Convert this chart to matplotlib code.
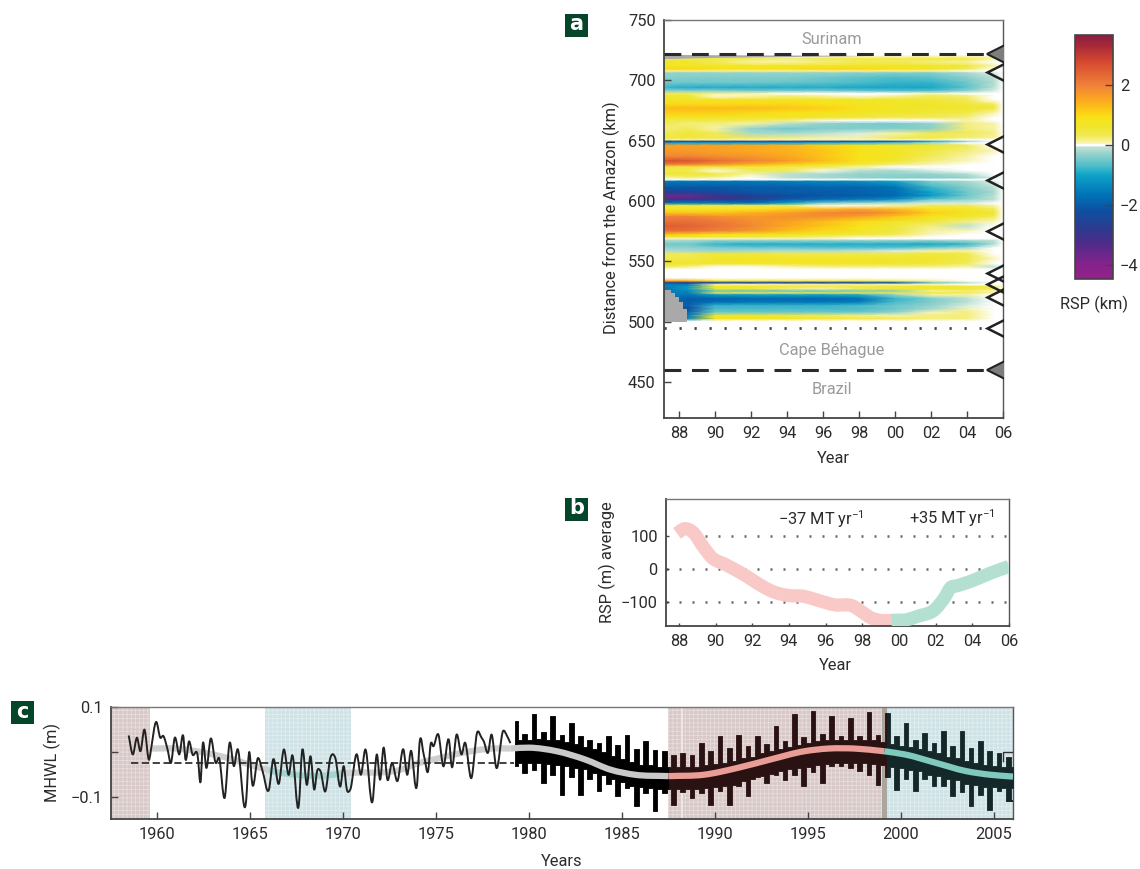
import numpy as np
import matplotlib
matplotlib.use('Agg')
import matplotlib.pyplot as plt
from matplotlib.colors import LinearSegmentedColormap, Normalize
from matplotlib.cm import ScalarMappable
from matplotlib.patches import Rectangle, PathPatch
from matplotlib.path import Path

plt.rcParams['font.family'] = ['Roboto', 'Liberation Sans', 'DejaVu Sans']
plt.rcParams['mathtext.default'] = 'regular'
plt.rcParams['hatch.linewidth'] = 0.5

# ---------- panel a ----------
col_years = [87.2, 88.5, 90, 92, 94, 96, 98, 100, 102, 104, 105.5, 106]
row_km = [721, 718, 715, 712, 709, 707.5, 706, 702, 698, 694, 691, 689, 687, 684, 680, 677, 673, 669, 666.5, 664, 660, 656, 652,
          650.5, 649, 648, 646, 641, 637, 633, 630, 628, 625, 622, 619, 617.5, 616, 611, 607, 604, 601, 598, 596, 593, 590, 587,
          583, 579, 575, 572, 570, 568.5, 567, 564, 561, 558.5, 556, 552, 548, 545.5, 543, 536, 533.5, 532, 530.5, 529, 527, 525,
          523.5, 522, 519, 516, 513, 510, 507.5, 505, 502, 500.5]
rsp = [
 [0,0,0,0,0,0,0,0,0,0,0,0],
 [.4,.4,.4,.3,.2,.3,.4,.3,.4,.4,.1,0],
 [.6,.6,.3,.1,.1,.2,.3,.3,.2,.1,0,0],
 [.7,.7,.7,.7,.7,.7,.7,.7,.6,.5,.1,0],
 [1,1,.9,.9,.9,1,1,.9,.7,.3,0,0],
 [.1,.1,.1,.1,.1,.1,.1,.1,.05,0,0,0],
 [-.3,-.3,-.3,-.3,-.3,-.3,-.35,-.4,-.4,-.2,-.05,0],
 [-.35,-.4,-.4,-.4,-.4,-.5,-.6,-.7,-.6,-.35,-.1,0],
 [-.5,-.5,-.5,-.5,-.55,-.6,-.7,-.8,-.8,-.5,-.15,0],
 [-.8,-.9,-.9,-.9,-.9,-.9,-.95,-.95,-.95,-.6,-.1,0],
 [-.3,-.3,-.3,-.4,-.4,-.4,-.5,-.6,-.6,-.3,-.05,0],
 [.3,.3,.2,.1,.02,.02,.02,.02,.05,.02,0,0],
 [.6,.5,.03,.05,.2,.1,.03,.1,.3,.2,0,0],
 [.7,.7,.7,.7,.7,.7,.6,.6,.5,.3,0,0],
 [1,1,1,1,1,.9,.8,.7,.6,.5,.3,0],
 [1.3,1.3,1.3,1.3,1.2,1.1,.9,.7,.6,.6,.5,0],
 [1.1,1.1,1.1,1,.9,.8,.7,.6,.5,.4,.1,0],
 [.7,.7,.7,.7,.7,.6,.5,.3,.3,.2,0,0],
 [.4,.4,.4,.3,.2,.03,.02,.02,.02,.1,0,0],
 [.3,.2,.2,.1,-.1,-.3,-.4,-.45,-.3,.2,.1,0],
 [.2,.3,.1,-.3,-.5,-.4,-.4,-.4,-.35,.2,.1,0],
 [.3,.5,.3,-.2,-.2,-.1,-.05,.1,.3,.3,.2,0],
 [.5,.5,.4,.3,.2,.1,.1,.3,.4,.2,.1,0],
 [.1,.1,.1,.05,.05,.05,.05,.05,.05,0,0,0],
 [-3,-3,-3,-3,-3,-2.8,-2.6,-2.2,-1,-.3,0,0],
 [-1,-1,-1,-1,-1,-.9,-.8,-.6,-.2,0,0,0],
 [1.6,1.6,1.6,1.5,1.4,1.1,.9,.7,.6,.3,0,0],
 [1.7,1.7,1.6,1.5,1.4,1.2,.9,.7,.4,.2,.05,0],
 [1.9,1.9,1.8,1.7,1.5,1.2,.9,.7,.3,.1,0,0],
 [2.7,2.6,2.3,2.0,1.7,1.3,.9,.6,.2,.05,0,0],
 [2,1.9,1.7,1.4,1.1,.8,.5,.2,.05,0,0,0],
 [.5,.5,.5,.5,.4,.3,.1,0,0,0,0,0],
 [.4,.4,.03,.3,.3,.03,-.1,-.2,-.05,0,0,0],
 [.5,.5,.5,.1,-.1,-.2,-.3,-.3,-.3,-.15,0,0],
 [.1,.2,.1,0,-.1,-.2,-.3,-.4,-.4,-.3,-.05,0],
 [0,0,0,0,0,0,0,0,0,0,0,0],
 [-1.6,-1.6,-1.6,-1.6,-1.5,-1.4,-1.3,-1,-.4,-.2,-.05,0],
 [-2.1,-2.1,-2.1,-2,-2,-1.9,-1.9,-1.7,-.8,-.4,-.1,0],
 [-2.6,-2.5,-2.3,-2.1,-2,-2,-1.9,-1.7,-1,-.5,-.2,0],
 [-3.8,-3.8,-3.2,-2.7,-2.3,-2.1,-2,-1.8,-1.1,-.5,-.1,0],
 [-3,-2.8,-2.8,-2.5,-2,-1.7,-1.5,-1.2,-.5,-.3,-.1,0],
 [-1.5,-1.5,-1.5,-1.7,-1,-.4,-.2,-.1,-.05,-.05,0,0],
 [.5,.5,.4,.3,.3,.03,.03,.1,.3,.3,.1,0],
 [.7,.7,.8,.9,1.1,1.3,1.5,1.3,.9,.7,.3,0],
 [1.2,1.2,1.2,1.4,1.6,1.9,2,1.7,1.1,.8,.6,0],
 [2,2,1.8,1.7,1.8,1.8,1.6,1.2,.8,.6,.3,0],
 [2.2,2.2,2.1,1.8,1.6,1.3,1,.7,.5,.2,.05,0],
 [2.5,2.4,2.2,1.9,1.5,1.2,.9,.5,.2,-.1,0,0],
 [2.2,2.2,2,1.7,1.3,1,.7,.5,.1,.05,0,0],
 [1.2,1.1,.9,.8,.7,.6,.5,.3,.05,0,0,0],
 [.6,.6,.5,.5,.4,.2,.1,.05,0,0,0,0],
 [.05,.05,.05,.05,.05,.05,0,0,0,0,0,0],
 [-.2,-.2,-.3,-.3,-.3,-.3,-.3,-.3,-.3,-.2,-.1,0],
 [-.5,-.5,-.8,-.9,-.9,-.9,-.9,-.9,-.95,-.8,-.15,0],
 [-.3,-.3,-.4,-.5,-.5,-.6,-.6,-.6,-.4,-.2,0,0],
 [-.15,-.2,-.25,-.2,-.15,-.15,-.1,-.05,.1,.1,0,0],
 [.3,.3,.5,.5,.4,.4,.4,.4,.5,.4,0,0],
 [.4,.4,.6,.7,.7,.7,.7,.6,.6,.4,.05,0],
 [.7,.6,.6,.7,.7,.7,.7,.6,.5,.3,0,0],
 [.3,.2,.03,.03,.1,.2,.2,.2,.2,.1,-.1,0],
 [0,0,0,0,0,0,0,0,0,0,0,0],
 [0,0,0,0,0,0,0,0,0,0,0,0],
 [1.6,1.4,.4,.3,.3,.3,.3,.2,.1,0,0,0],
 [-2.5,-2.7,-2.5,-2.5,-2.5,-2.5,-2.3,-2,-.5,-.1,0,0],
 [-1.5,-1.5,.1,.05,.1,.1,.1,.05,.05,0,0,0],
 [-1.5,-1.2,.6,.6,.5,.4,.4,.5,.6,.5,.3,0],
 [-1.6,-1.1,.5,.5,.2,.1,.3,.5,.6,.5,.3,0],
 [-1.5,-1.4,-.6,-.6,-.6,-.6,-.5,-.4,.1,.2,.05,0],
 [-1.5,-1.5,.4,.3,.3,.4,.4,.4,.5,.3,.1,0],
 [-1.5,-1.6,-1.1,-1,-1,-1,-.9,-.3,.1,.1,0,0],
 [-1.6,-2,-1.9,-1.8,-1.8,-1.8,-1.7,-.8,-.4,-.1,0,0],
 [-1.6,-2,-1.7,-1.6,-1.6,-1.6,-1.5,-.7,-.4,-.1,0,0],
 [-1.5,-2,-.8,-.8,-.8,-.8,-.7,-.5,-.3,-.05,0,0],
 [-1.5,-2.3,-.7,-.7,-.7,-.7,-.7,-.5,-.2,.1,0,0],
 [-1.5,-1.8,-.5,-.5,-.5,-.5,-.5,-.3,.05,.2,0,0],
 [-1.5,-1.5,.6,.7,.5,.3,.2,.1,.2,.2,0,0],
 [-1.5,-1.5,.8,.7,.6,.5,.4,.3,.2,.2,0,0],
 [0,0,0,0,0,0,0,0,0,0,0,0],
]
gap_years = [87.17, 87.55, 87.8, 88.0, 88.2, 88.45]
gap_top_km = [526, 524, 520, 516, 510, 505]
strip_years = [87.17, 90, 93, 96, 98.5]
strip_top_km = [721.5, 721.2, 721, 720.8, 720.5]
strip_bot_km = [718, 719, 719.5, 720, 720.5]
coast_km_open = [707, 647, 617, 575, 540.5, 531, 520, 495]
coast_km_filled = [722, 460]
year_ticks = [88, 90, 92, 94, 96, 98, 100, 102, 104, 106]
year_tick_labels = ['88', '90', '92', '94', '96', '98', '00', '02', '04', '06']
km_ticks = [450, 500, 550, 600, 650, 700, 750]
cbar_ticks = [2, 0, -2, -4]
cbar_labels = ['2', '0', '\u22122', '\u22124']

# ---------- panel b ----------
loss_years = [87.9, 88.3, 88.8, 89.3, 89.8, 90.5, 91.5, 92.5, 93, 94, 94.8, 95.5, 96.5, 97.5, 98, 98.5, 99, 99.7]
loss_rsp = [108, 122, 110, 70, 35, 15, -15, -50, -65, -80, -82, -93, -108, -112, -130, -148, -155, -155]
gain_years = [99.6, 100.5, 101, 102, 102.5, 102.8, 103.2, 104, 105, 106]
gain_rsp = [-155, -152, -143, -120, -85, -57, -50, -35, -12, 8]

# ---------- panel c ----------
thin_years = [1958.48,1958.70,1958.93,1959.11,1959.32,1959.59,1959.68,1959.96,1960.18,1960.34,1960.57,1960.75,1960.96,1961.20,1961.43,1961.52,1961.73,1961.91,1962.18,1962.36,1962.45,1962.66,1962.89,1963.16,1963.34,1963.64,1963.91,1964.14,1964.32,1964.80,1964.95,1965.13,1965.43,1965.66,1966.02,1966.25,1966.55,1966.82,1967.09,1967.27,1967.63,1967.80,1968.07,1968.25,1968.46,1968.61,1968.79,1969.05,1969.32,1969.59,1969.86,1970.04,1970.21,1970.39,1970.75,1970.96,1971.20,1971.59,1971.82,1972.00,1972.18,1972.39,1972.63,1972.93,1973.25,1973.46,1973.64,1974.00,1974.11,1974.36,1974.59,1974.71,1974.86,1975.13,1975.39,1975.71,1975.84,1976.11,1976.38,1976.55,1976.91,1977.21,1977.45,1977.57,1977.80,1977.98,1978.25,1978.61,1978.82,1979.0]
thin_mhwl = [.037,-.005,.032,.002,.05,-.016,.006,.067,.032,.036,.006,-.024,.032,-.005,.032,-.013,.024,-.005,-.005,-.061,.013,-.035,.030,-.024,-.013,-.101,.021,-.031,.006,-.105,-.001,-.072,-.013,-.039,-.083,-.016,-.07,.006,-.05,-.007,-.116,.002,-.072,-.009,-.083,-.042,-.042,-.087,-.013,-.013,-.076,-.031,-.083,-.083,-.005,-.05,.006,-.109,-.005,-.061,.01,-.061,-.024,-.064,.006,-.05,.002,-.064,.017,-.009,-.039,.017,.013,.039,-.031,.024,-.031,.039,-.005,.021,-.057,.043,.032,.024,-.001,.039,-.035,.047,.036,.02]

comb_top = [
 .069,.028,.04,.028, .084,.03,.045,.028, .08,.026,.038,.022, .065,.018,.035,.012,
 .028,.006,.02,.0, .036,-.008,.016,-.016, .039,-.022,.008,-.028, .024,-.028,.005,-.032,
 .002,-.032,-.006,-.032, -.001,-.032,-.006,-.032, .021,-.028,.002,-.026, .036,-.024,.01,-.02,
 .039,-.014,.014,-.01, .036,-.002,.018,.002, .058,.008,.024,.012, .084,.016,.034,.02,
 .091,.024,.04,.026, .08,.028,.035,.028, .076,.028,.036,.028, .09,.026,.038,.022,
 .087,.018,.035,.014, .065,.012,.028,.008, .043,.002,.02,-.002, .047,-.01,.014,-.014,
 .047,-.02,.01,-.024, .024,-.028,.002,-.03, -.001,-.032,-.01,-.032]
comb_bottom = [
 -.03,-.024,-.046,-.024, -.04,-.024,-.068,-.026, -.05,-.028,-.094,-.03, -.055,-.034,-.094,-.038,
 -.06,-.046,-.087,-.05, -.07,-.06,-.098,-.067, -.08,-.074,-.12,-.078, -.09,-.08,-.131,-.082,
 -.09,-.082,-.116,-.082, -.088,-.082,-.101,-.082, -.09,-.08,-.116,-.078, -.085,-.074,-.116,-.072,
 -.075,-.064,-.098,-.06, -.055,-.052,-.068,-.048, -.05,-.042,-.061,-.038, -.05,-.034,-.076,-.032,
 -.045,-.028,-.068,-.026, -.03,-.024,-.031,-.024, -.035,-.024,-.042,-.024, -.05,-.026,-.072,-.028,
 -.055,-.032,-.083,-.034, -.06,-.04,-.087,-.042, -.06,-.05,-.076,-.052, -.075,-.06,-.098,-.062,
 -.088,-.07,-.12,-.072, -.095,-.077,-.127,-.078, -.085,-.08,-.109,-.08]
comb_years = [1979.27 + 0.25 * k for k in range(len(comb_top))]
nodal_years = [1959.7,1961,1962,1963,1964,1965,1966,1967,1968,1969,1970,1971,1972,1973,1974,1975,1976,1977,1978,1979,1980,1981.5,1983,1984.4,1985.7,1987.5,1989.4,1991.2,1993,1994.8,1996.1,1997.5,1999.1,2000.2,2001.9,2003.5,2004.8,2006.02]
nodal_mhwl = [.008,.008,.003,-.005,-.015,-.028,-.04,-.048,-.052,-.052,-.047,-.045,-.045,-.04,-.025,-.015,-.005,.003,.008,.008,.01,.002,-.016,-.039,-.05,-.053,-.05,-.035,-.016,.002,.008,.008,.002,-.005,-.024,-.042,-.05,-.054]
mean_years = [1958.6, 1979.2]
mean_mhwl = [-.024, -.024]
box_years = [2006.02, 2005.5, 2005.5]
box_mhwl = [.0, .0, -.02]
box2_years = [2005.7, 2006.02]
box2_mhwl = [-.108, -.108]
c_ticks = [1960, 1965, 1970, 1975, 1980, 1985, 1990, 1995, 2000, 2005]
shade_brown = [(1957.53, 1959.65), (1987.47, 1999.19)]
shade_blue = [(1965.8, 1970.45), (1999.19, 2006.02)]

# ---------- styling helpers ----------
W, H = 1140, 869
FS = 11.8
fig = plt.figure(figsize=(W / 100, H / 100), dpi=100)

def box(l, t, r, b):
    return [l / W, 1 - b / H, (r - l) / W, (b - t) / H]

def label(x, y, s, **kw):
    kw.setdefault('fontsize', FS)
    kw.setdefault('color', '#2b2b2b')
    kw.setdefault('ha', 'center')
    kw.setdefault('va', 'center')
    fig.text(x / W, 1 - y / H, s, **kw)

def badge(x, y, s):
    fig.add_artist(Rectangle((x / W, 1 - (y + 23) / H), 23 / W, 23 / H, transform=fig.transFigure,
                             facecolor='#05452a', edgecolor='none'))
    label(x + 11.5, y + 10.5, s, color='white', fontsize=15, fontweight='bold', family='DejaVu Sans')

def style(ax, xt, xl, yt, yl):
    for s, c, w in [('left', '#444444', 1.3), ('bottom', '#444444', 1.3), ('top', '#777777', 1.0), ('right', '#555555', 1.0)]:
        ax.spines[s].set_color(c)
        ax.spines[s].set_linewidth(w)
    ax.set_xticks(xt, xl)
    ax.set_yticks(yt, yl)
    ax.tick_params(direction='in', length=5, width=1, color='#444444', labelsize=FS, labelcolor='#2b2b2b', pad=6)

def smooth(ax, xs, ys, **kw):
    """Draw a line through the read values with rounded (Bezier) joins."""
    xs, ys = np.asarray(xs, float), np.asarray(ys, float)
    tan = np.gradient(ys, xs)
    verts, codes = [(xs[0], ys[0])], [Path.MOVETO]
    for i in range(len(xs) - 1):
        d = (xs[i + 1] - xs[i]) / 3
        verts += [(xs[i] + d, ys[i] + tan[i] * d), (xs[i + 1] - d, ys[i + 1] - tan[i + 1] * d), (xs[i + 1], ys[i + 1])]
        codes += [Path.CURVE4] * 3
    p = PathPatch(Path(verts, codes), fill=False, capstyle='butt', joinstyle='round', **kw)
    ax.add_patch(p)

stops = [(-4.47, '#97208c'), (-4.0, '#86228a'), (-3.3, '#4f2b8a'), (-2.8, '#2d3a8f'), (-2.2, '#0e4fa0'),
         (-1.7, '#0070b5'), (-1.0, '#0fa2c8'), (-0.7, '#4cbdca'), (-0.3, '#93d2cb'), (-0.06, '#c4e3d3'),
         (-0.02, '#ffffff'), (0.02, '#ffffff'), (0.05, '#f9f5b8'), (0.3, '#f1ea58'), (0.6, '#f0e62c'), (0.9, '#f8e31a'),
         (1.1, '#fdcf16'), (1.5, '#fba81f'), (2.0, '#f0803a'), (2.8, '#d3472f'), (3.3, '#a92a38'), (3.67, '#8a1c42')]
vmin, vmax = -4.47, 3.67
cmap = LinearSegmentedColormap.from_list('rsp', [((v - vmin) / (vmax - vmin), c) for v, c in stops], N=1024)
norm = Normalize(vmin, vmax)

# ---------- panel a ----------
axa = fig.add_axes(box(664, 20, 1003, 418))
axa.pcolormesh(col_years, row_km, np.array(rsp), cmap=cmap, norm=norm, shading='gouraud', zorder=1, rasterized=True)
axa.fill_between(gap_years, 500, gap_top_km, step='post', color='#a9a9a9', lw=0, zorder=2)
axa.fill_between(strip_years, strip_bot_km, strip_top_km, color='#a9a9a9', lw=0, zorder=2)
axa.set_xlim(87.17, 106)
axa.set_ylim(420, 750)
style(axa, year_ticks, year_tick_labels, km_ticks, [str(k) for k in km_ticks])
for km in [722, 460]:
    axa.plot([87.17, 105.5], [km, km], color='#2a2a2a', lw=2.2, ls=(0, (5.5, 3.5)), zorder=3)
axa.plot([87.17, 105.5], [495, 495], color='#444444', lw=2, ls=(0, (0.8, 4.6)), zorder=3)
axa.plot([105.65] * len(coast_km_open), coast_km_open, ls='none', marker='<', ms=14, mfc='none', mec='#222222', mew=1.8, zorder=4)
axa.plot([105.65] * len(coast_km_filled), coast_km_filled, ls='none', marker='<', ms=14, mfc='#7d7d7d', mec='#222222', mew=1.5, zorder=4)
for x, y, s in [(832, 40, 'Surinam'), (832, 350, 'Cape B\u00e9hague'), (832, 390, 'Brazil')]:
    label(x, y, s, color='#9a9a9a')
label(611, 218, 'Distance from the Amazon (km)', rotation=90)
label(833, 458, 'Year')

# colour bar
cax = fig.add_axes(box(1075, 35, 1113, 279))
cb = fig.colorbar(ScalarMappable(norm=norm, cmap=cmap), cax=cax, orientation='vertical')
cb.set_ticks(cbar_ticks, labels=cbar_labels)
cb.ax.tick_params(direction='in', length=6, width=1, color='#444444', labelsize=FS, labelcolor='#2b2b2b', pad=5)
cb.outline.set_edgecolor('#444444')
cb.outline.set_linewidth(1.2)
label(1094, 304, 'RSP (km)')

# ---------- panel b ----------
axb = fig.add_axes(box(666, 499, 1009, 626))
for v, x0 in [(100, 89.4), (0, 87.3), (-100, 87.3)]:
    axb.plot([x0, 106], [v, v], color='#666666', lw=1.8, ls=(0, (0.8, 4.4)), zorder=1)
smooth(axb, loss_years, loss_rsp, color='#f9c9c8', lw=9.5, zorder=2)
smooth(axb, gain_years, gain_rsp, color='#b4e0d2', lw=9.5, zorder=3)
axb.set_xlim(87.3, 106)
axb.set_ylim(-172, 212)
style(axb, year_ticks, year_tick_labels, [-100, 0, 100], ['\u2212100', '0', '100'])
axb.tick_params(length=2.5)
label(821, 519, '\u221237 MT yr$^{\u22121}$')
label(952, 518, '+35 MT yr$^{\u22121}$')
label(607, 562, 'RSP (m) average', rotation=90)
label(835, 666, 'Year')

# ---------- panel c ----------
axc = fig.add_axes(box(111, 707, 1013, 819))
for a, b in shade_brown:
    axc.axvspan(a, b, facecolor='#d8c9c8', edgecolor='#e9dfde', hatch='++++', lw=0, zorder=0)
for a, b in shade_blue:
    axc.axvspan(a, b, facecolor='#cfe2e5', edgecolor='#e2eff1', hatch='++++', lw=0, zorder=0)
axc.axvspan(1998.97, 1999.24, facecolor='#aaa69c', lw=0, zorder=0.5)
axc.axvspan(1988.15, 1988.3, facecolor='#eee6e5', lw=0, zorder=0.5)

ny = np.array(nodal_years)
nv = np.array(nodal_mhwl)
m = ny <= 1966.01
smooth(axc, ny[m], nv[m], color='#cfcfcf', lw=4.5, zorder=1)
m = (ny >= 1966) & (ny <= 1970)
smooth(axc, ny[m], nv[m], color='#a5d3cf', lw=4.5, zorder=1)
m = (ny >= 1970) & (ny <= 1979)
smooth(axc, ny[m], nv[m], color='#cfcfcf', lw=4.5, zorder=1)

axc.plot(mean_years, mean_mhwl, color='#333333', lw=1.3, ls=(0, (4, 2)), zorder=2)
smooth(axc, thin_years, thin_mhwl, color='#222222', lw=1.4, zorder=3)

cy = np.array(comb_years)
ct = np.array(comb_top)
cbm = np.array(comb_bottom)
for lo, hi, col in [(1979, 1987.6, '#000000'), (1987.5, 1999.3, '#2a1212'), (1999.27, 2007, '#14282a')]:
    k = (cy >= lo) & (cy <= hi)
    axc.fill_between(cy[k], cbm[k], ct[k], step='mid', color=col, lw=0.6, zorder=3)
axc.plot(box_years, box_mhwl, color='#333333', lw=1, zorder=3)
axc.plot(box2_years, box2_mhwl, color='#222222', lw=1.4, zorder=3)

m = (ny >= 1979) & (ny <= 1987.5)
smooth(axc, ny[m], nv[m], color='#c9c9c9', lw=4.5, zorder=4)
m = (ny >= 1987.5) & (ny <= 1999.1)
smooth(axc, ny[m], nv[m], color='#ea9c97', lw=4.5, zorder=4)
m = ny >= 1999.1
smooth(axc, ny[m], nv[m], color='#7fcabd', lw=4.5, zorder=4)

axc.set_xlim(1957.53, 2006.02)
axc.set_ylim(-0.148, 0.1)
style(axc, c_ticks, [str(t) for t in c_ticks], [-0.1, 0, 0.1], ['\u22120.1', '', '0.1'])
label(52, 763, 'MHWL (m)', rotation=90)
label(562, 861, 'Years')

badge(565, 14, 'a')
badge(565, 498, 'b')
badge(11, 701, 'c')

fig.savefig('out.png', dpi=100)
